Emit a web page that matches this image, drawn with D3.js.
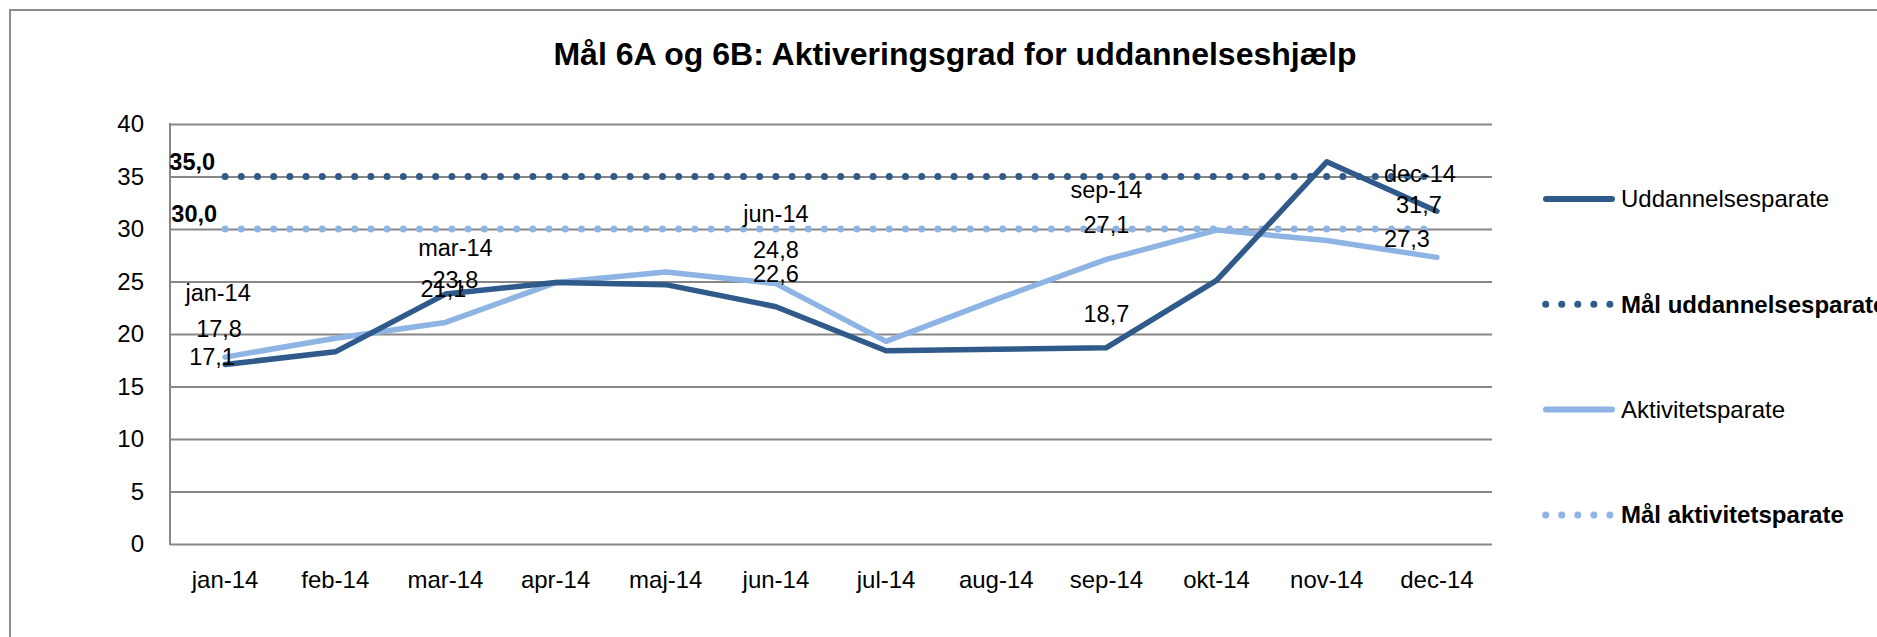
<!DOCTYPE html>
<html>
<head>
<meta charset="utf-8">
<script src="https://cdn.jsdelivr.net/npm/d3@7"></script>
<style>
  html, body { margin: 0; padding: 0; background: #fff; }
  svg { display: block; font-family: "Liberation Sans", Arial, sans-serif; }
</style>
</head>
<body>
<div id="chart"></div>
<script>
// Données
const months = ["jan-14", "feb-14", "mar-14", "apr-14", "maj-14", "jun-14",
                "jul-14", "aug-14", "sep-14", "okt-14", "nov-14", "dec-14"];
const uddannelsesparate = [17.1, 18.3, 23.8, 24.9, 24.7, 22.6, 18.4, 18.55, 18.7, 25.1, 36.4, 31.7];
const aktivitetsparate = [17.8, 19.6, 21.1, 24.9, 25.9, 24.8, 19.3, 23.3, 27.1, 29.9, 28.9, 27.3];
const malUddannelsesparate = [35, 35, 35, 35, 35, 35, 35, 35, 35, 35, 35, 35];
const malAktivitetsparate = [30, 30, 30, 30, 30, 30, 30, 30, 30, 30, 30, 30];
const yTicks = [0, 5, 10, 15, 20, 25, 30, 35, 40];
const title = "Mål 6A og 6B: Aktiveringsgrad for uddannelseshjælp";

// mois avec étiquette (valeur, et parfois le nom de la catégorie)
const labelledUdd = ["jan-14", "mar-14", "jun-14", "sep-14", "dec-14"];
const labelledAkt = ["jan-14", "mar-14", "jun-14", "sep-14", "dec-14"];
const categoryNameUdd = ["mar-14", "dec-14"];
const categoryNameAkt = ["jan-14", "jun-14", "sep-14"];

const width = 1877, height = 637;
const margin = { top: 124, right: 385, bottom: 93, left: 170 };
const innerWidth = width - margin.left - margin.right;
const innerHeight = height - margin.top - margin.bottom;

const dark = "#2f5a8a", light = "#8db4e3", grid = "#878787";

const series = [
  { key: "Mål aktivitetsparate", values: malAktivitetsparate, color: light, dotted: true },
  { key: "Aktivitetsparate", values: aktivitetsparate, color: light, dotted: false },
  { key: "Mål uddannelsesparate", values: malUddannelsesparate, color: dark, dotted: true },
  { key: "Uddannelsesparate", values: uddannelsesparate, color: dark, dotted: false }
];
const legendOrder = ["Uddannelsesparate", "Mål uddannelsesparate", "Aktivitetsparate", "Mål aktivitetsparate"];

const svg = d3.select("#chart").append("svg")
  .attr("width", width)
  .attr("height", height);

// cadre (bords haut et gauche visibles)
svg.append("path")
  .attr("d", `M${width},10 H10 V${height}`)
  .attr("fill", "none")
  .attr("stroke", "#8c8c8c")
  .attr("stroke-width", 2);

svg.append("text")
  .attr("x", 955).attr("y", 65)
  .attr("text-anchor", "middle")
  .style("font-size", "32px")
  .style("font-weight", "bold")
  .text(title);

const g = svg.append("g").attr("transform", `translate(${margin.left},${margin.top})`);

// Scales
const xScale = d3.scaleBand().domain(months).range([0, innerWidth]);
const xc = m => xScale(m) + xScale.bandwidth() / 2;
const yScale = d3.scaleLinear().domain([0, 40]).range([innerHeight, 0]);

// grille + axe Y
const yAxis = g.append("g")
  .call(d3.axisLeft(yScale).tickValues(yTicks).tickSize(-innerWidth).tickPadding(26).tickFormat(d3.format("d")));
yAxis.select(".domain").remove();
yAxis.selectAll(".tick line").attr("stroke", grid).attr("stroke-width", 2);
yAxis.selectAll(".tick text").style("font-size", "24px").attr("fill", "#000");

g.append("line")
  .attr("x1", 0).attr("x2", 0).attr("y1", -1).attr("y2", innerHeight + 1)
  .attr("stroke", grid).attr("stroke-width", 2);

// axe X
const xAxis = g.append("g")
  .attr("transform", `translate(0,${innerHeight})`)
  .call(d3.axisBottom(xScale).tickSize(0));
xAxis.select(".domain").remove();
xAxis.selectAll(".tick text")
  .attr("dy", null).attr("y", 44)
  .style("font-size", "24px").attr("fill", "#000");

// lignes
const line = d3.line().x((d, i) => xc(months[i])).y(d => yScale(d));
g.selectAll("path.serie")
  .data(series)
  .enter()
  .append("path")
  .attr("class", "serie")
  .attr("d", d => line(d.values))
  .attr("fill", "none")
  .attr("stroke", d => d.color)
  .attr("stroke-width", d => d.dotted ? 7 : 5.5)
  .attr("stroke-linecap", "round")
  .attr("stroke-linejoin", "round")
  .attr("stroke-dasharray", d => d.dotted ? "0 16.2" : null);

// étiquettes : décalages par rapport au point
const placement = {
  "udd|jan-14": { dx: -13, dy: 0.5 },
  "udd|mar-14": { dx: 10, dy: -6, cat: -32 },
  "udd|jun-14": { dx: 0, dy: -25 },
  "udd|sep-14": { dx: 0, dy: -25.6 },
  "udd|dec-14": { dx: -18, dy: 2, cat: -31, catDx: -17 },
  "akt|jan-14": { dx: -6, dy: -20, cat: -36, catDx: -7 },
  "akt|mar-14": { dx: -2, dy: -25.5 },
  "akt|jun-14": { dx: 0, dy: -25.6, cat: -36 },
  "akt|sep-14": { dx: 0, dy: -26.5, cat: -35 },
  "akt|dec-14": { dx: -30, dy: -10 }
};
const fmt = v => d3.format(".1f")(v).replace(".", ",");

const labels = [];
labelledUdd.forEach(m => labels.push({ s: "udd", m, v: uddannelsesparate[months.indexOf(m)], cat: categoryNameUdd.includes(m) }));
labelledAkt.forEach(m => labels.push({ s: "akt", m, v: aktivitetsparate[months.indexOf(m)], cat: categoryNameAkt.includes(m) }));

const lab = g.append("g").style("font-size", "23.5px");
labels.forEach(d => {
  const p = placement[d.s + "|" + d.m];
  const x = xc(d.m), y = yScale(d.v);
  lab.append("text")
    .attr("x", x + p.dx).attr("y", y + p.dy)
    .attr("text-anchor", "middle")
    .text(fmt(d.v));
  if (d.cat) {
    lab.append("text")
      .attr("x", x + (p.catDx !== undefined ? p.catDx : p.dx)).attr("y", y + p.dy + p.cat)
      .attr("text-anchor", "middle")
      .text(d.m);
  }
});
// étiquettes des objectifs (premier point)
[[malUddannelsesparate, -10, -6.5], [malAktivitetsparate, -8, -7]].forEach(([vals, dx, dy]) => {
  lab.append("text")
    .attr("x", xc(months[0]) + dx).attr("y", yScale(vals[0]) + dy)
    .attr("text-anchor", "end")
    .style("font-weight", "bold")
    .text(fmt(vals[0]));
});

// Légende
const legend = svg.append("g")
  .selectAll("g")
  .data(legendOrder.map(k => series.find(s => s.key === k)))
  .enter()
  .append("g")
  .attr("transform", (d, i) => `translate(0,${199 + i * 105.3})`);

legend.append("line")
  .attr("x1", d => d.dotted ? 1545.7 : 1546)
  .attr("x2", d => d.dotted ? 1610 : 1612)
  .attr("stroke", d => d.color)
  .attr("stroke-width", d => d.dotted ? 7 : 6)
  .attr("stroke-linecap", "round")
  .attr("stroke-dasharray", d => d.dotted ? "0 16.05" : null);

legend.append("text")
  .attr("x", 1621)
  .attr("dy", "0.35em")
  .style("font-size", "24px")
  .style("font-weight", d => d.dotted ? "bold" : "normal")
  .text(d => d.key);
</script>
</body>
</html>
